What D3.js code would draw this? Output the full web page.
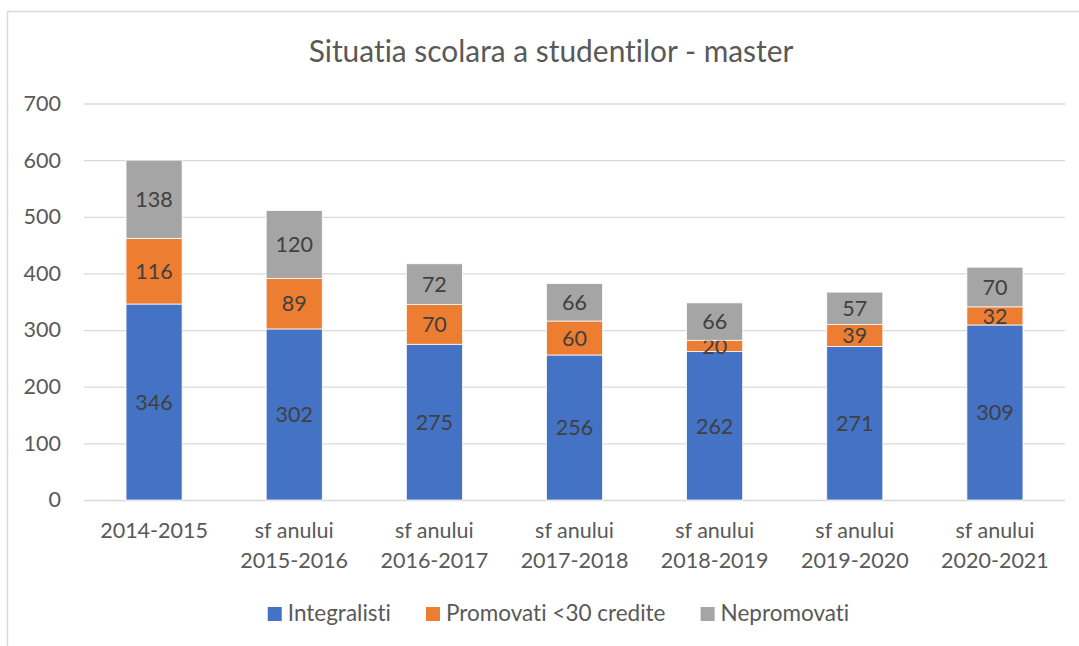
<!DOCTYPE html>
<html>
<head>
<meta charset="utf-8">
<script src="https://cdn.jsdelivr.net/npm/d3@7"></script>
<style>
  html, body { margin: 0; padding: 0; background: #fff; }
  svg { display: block; font-family: Lato, "Open Sans", sans-serif; font-variant-ligatures: none; }
</style>
</head>
<body>
<div id="chart"></div>
<script>
// chart data
const categories = [
    ["2014-2015"],
    ["sf anului", "2015-2016"],
    ["sf anului", "2016-2017"],
    ["sf anului", "2017-2018"],
    ["sf anului", "2018-2019"],
    ["sf anului", "2019-2020"],
    ["sf anului", "2020-2021"]
];
const seriesNames = ["Integralisti", "Promovati <30 credite", "Nepromovati"];
const integralisti = [346, 302, 275, 256, 262, 271, 309];
const promovati = [116, 89, 70, 60, 20, 39, 32];
const nepromovati = [138, 120, 72, 66, 66, 57, 70];
const yTicks = [0, 100, 200, 300, 400, 500, 600, 700];
const colors = ["#4472C4", "#ED7D31", "#A5A5A5"];

const width = 1079, height = 646;
const plot = { left: 84, right: 1065, top: 103.5, bottom: 500 };

const svg = d3.select("#chart")
    .append("svg")
    .attr("width", width)
    .attr("height", height);

// outer chart frame (runs off the right and bottom edge)
svg.append("rect")
    .attr("x", 7.5).attr("y", 11.5)
    .attr("width", 1100).attr("height", 700)
    .attr("fill", "#fff")
    .attr("stroke", "#D9D9D9")
    .attr("stroke-width", 1.5);

svg.append("text")
    .attr("x", 551).attr("y", 62)
    .attr("text-anchor", "middle")
    .attr("font-size", 29.9)
    .attr("fill", "#595959")
    .text("Situatia scolara a studentilor - master");

const keys = categories.map((c, i) => i);
const x = d3.scaleBand()
    .domain(keys)
    .range([plot.left, plot.right])
    .paddingInner(0.6)
    .paddingOuter(0.3);

const y = d3.scaleLinear()
    .domain([0, 700])
    .range([plot.bottom, plot.top]);

// gridlines + y labels
const yAxis = svg.append("g")
    .attr("transform", `translate(${plot.left},0)`)
    .call(d3.axisLeft(y).tickValues(yTicks).tickSize(-(plot.right - plot.left)).tickPadding(23));
yAxis.select(".domain").remove();
yAxis.selectAll(".tick line").attr("stroke", "#D9D9D9").attr("stroke-width", 1.3);
yAxis.selectAll(".tick text")
    .attr("font-family", "Lato, 'Open Sans', sans-serif")
    .attr("font-size", 21.5)
    .attr("fill", "#595959");

// stacked bars
const rows = keys.map(i => ({ i: i, a: integralisti[i], b: promovati[i], c: nepromovati[i] }));
const stacked = d3.stack().keys(["a", "b", "c"])(rows);

const layers = svg.selectAll(".layer")
    .data(stacked)
    .enter()
    .append("g")
    .attr("class", "layer")
    .attr("fill", (d, k) => colors[k]);

layers.selectAll("rect")
    .data(d => d)
    .enter()
    .append("rect")
    .attr("x", d => x(d.data.i))
    .attr("width", x.bandwidth())
    .attr("y", d => y(d[1]))
    .attr("height", d => y(d[0]) - y(d[1]))
    .attr("stroke", "#fff")
    .attr("stroke-width", 0.75);

layers.selectAll("text")
    .data(d => d.map(s => ({ s: s, key: d.key })))
    .enter()
    .append("text")
    .attr("x", d => x(d.s.data.i) + x.bandwidth() / 2)
    .attr("y", d => y((d.s[0] + d.s[1]) / 2))
    .attr("dy", "0.36em")
    .attr("text-anchor", "middle")
    .attr("font-size", 21.5)
    .attr("fill", "#404040")
    .text(d => d.s.data[d.key]);

// category labels
const xLabels = svg.append("g")
    .selectAll("text")
    .data(categories)
    .enter()
    .append("text")
    .attr("text-anchor", "middle")
    .attr("font-size", 21.5)
    .attr("fill", "#595959");
xLabels.selectAll("tspan")
    .data((d, i) => d.map(line => ({ line: line, i: i })))
    .enter()
    .append("tspan")
    .attr("x", d => x(d.i) + x.bandwidth() / 2)
    .attr("y", (d, j) => 538 + j * 30)
    .text(d => d.line);

// legend
const legend = svg.append("g");
const items = legend.selectAll("g")
    .data(seriesNames)
    .enter()
    .append("g");
items.append("rect")
    .attr("width", 14).attr("height", 14)
    .attr("y", 607)
    .attr("fill", (d, k) => colors[k]);
items.append("text")
    .attr("x", 20)
    .attr("y", 621)
    .attr("font-size", 22.5)
    .attr("fill", "#595959")
    .text(d => d);

let offset = 0;
const positions = [];
items.each(function() {
    positions.push(offset);
    offset += this.getBBox().width + 35;
});
const total = offset - 35;
const startX = 558.5 - total / 2;
items.attr("transform", (d, k) => `translate(${startX + positions[k]},0)`);
</script>
</body>
</html>
